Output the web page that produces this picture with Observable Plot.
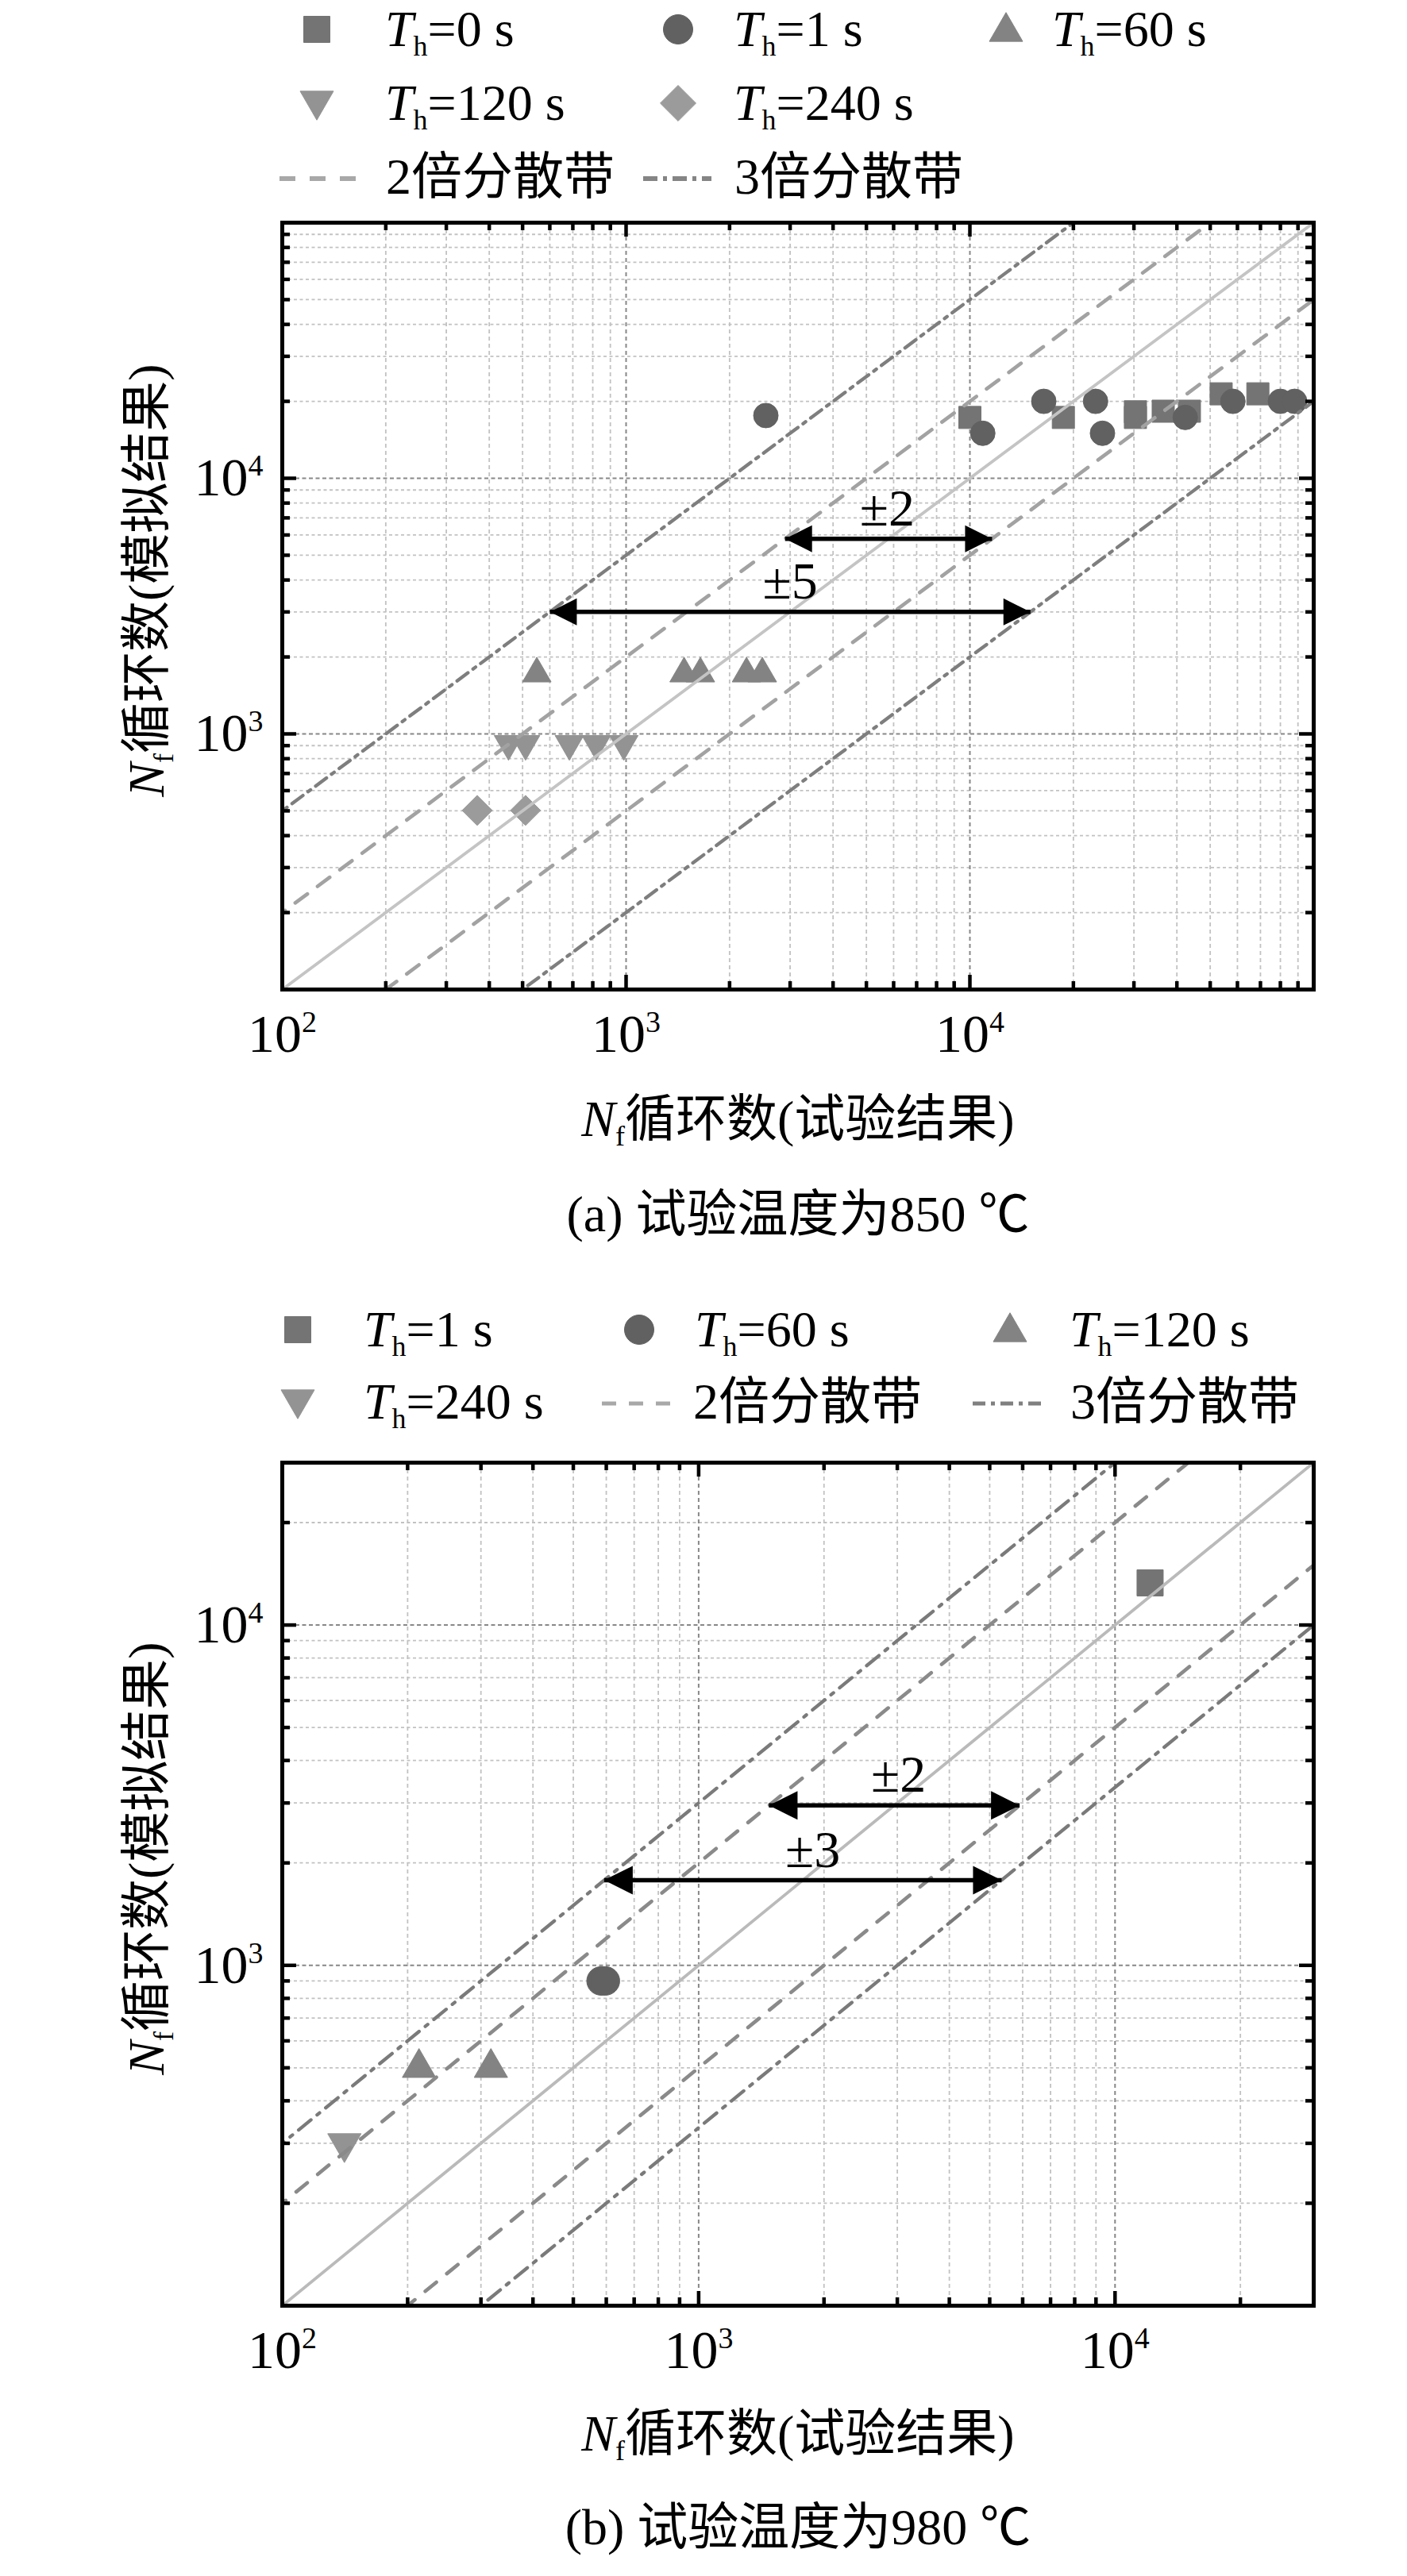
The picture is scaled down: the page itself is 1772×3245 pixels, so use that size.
<!DOCTYPE html>
<html>
<head>
<meta charset="utf-8">
<script src="https://cdn.jsdelivr.net/npm/d3@7"></script>
<script src="https://cdn.jsdelivr.net/npm/@observablehq/plot@0.6"></script>
<style>
html,body{margin:0;padding:0;background:#fff;}
#root{position:relative;width:1772px;height:3245px;background:#fff;overflow:hidden;}
.t{position:absolute;white-space:nowrap;font-family:"Liberation Serif","Noto Sans CJK SC",serif;font-size:64px;line-height:64px;height:64px;color:#000;}
.c{transform:translateX(-50%);}
.sub{font-size:36px;vertical-align:-12px;line-height:0;}
.rot{transform:translate(-50%,-50%) rotate(-90deg);}
svg.mk{position:absolute;overflow:visible;}
</style>
</head>
<body>
<div id="root"></div>
<script>
// ================= DATA: (a) 850 ℃ =================
const a_Th0_x   = [10000, 18700, 30300, 30300, 36500, 43500, 53800, 68800];
const a_Th0_y   = [17300, 17300, 18200, 17300, 18300, 18300, 21400, 21400];
const a_Th1_x   = [2550, 10900, 16400, 23200, 24300, 42300, 58200, 80000, 88000];
const a_Th1_y   = [17600, 15000, 20000, 20000, 15000, 17300, 20000, 20000, 20000];
const a_Th60_x  = [550, 1475, 1645, 2240, 2490];
const a_Th60_y  = [1720, 1720, 1720, 1720, 1720];
const a_Th120_x = [455, 510, 684, 819, 985];
const a_Th120_y = [915, 915, 915, 915, 915];
const a_Th240_x = [369, 510];
const a_Th240_y = [502, 502];
const a_band2 = [2, 0.5];
const a_band3 = [5, 0.2];
const a_arrow_x1 = [2900, 600];
const a_arrow_x2 = [11600, 15000];
const a_arrow_y  = [5800, 3000];
const a_arrow_label   = ["±2", "±5"];
const a_arrow_label_x = [5750, 3000];
const a_xTicks = [100, 1000, 10000];
const a_yTicks = [1000, 10000];
const a_domain = [100, 100000];

// ================= DATA: (b) 980 ℃ =================
const b_Th1_x   = [12140];
const b_Th1_y   = [13300];
const b_Th60_x  = [583, 597];
const b_Th60_y  = [900, 900];
const b_Th120_x = [213, 317];
const b_Th120_y = [500, 500];
const b_Th240_x = [141];
const b_Th240_y = [300];
const b_band2 = [2, 0.5];
const b_band3 = [3, 1 / 3];
const b_arrow_x1 = [1475, 593];
const b_arrow_x2 = [5900, 5340];
const b_arrow_y  = [2950, 1780];
const b_arrow_label   = ["±2", "±3"];
const b_arrow_label_x = [3020, 1880];
const b_xTicks = [100, 1000, 10000];
const b_yTicks = [1000, 10000];
const b_domain = [100, 30000];

// ================= symbols =================
const ns = "http://www.w3.org/2000/svg";
const SQ = {draw(c, s) {const w = Math.sqrt(s); c.moveTo(-w/2, -w/2); c.lineTo(w/2, -w/2); c.lineTo(w/2, w/2); c.lineTo(-w/2, w/2); c.closePath();}};
const CI = {draw(c, s) {const r = Math.sqrt(s / Math.PI); c.moveTo(r, 0); c.arc(0, 0, r, 0, 2 * Math.PI); c.closePath();}};
const TU = {draw(c, s) {const y = Math.sqrt(s / (3 * Math.sqrt(3))), x = Math.sqrt(3) * y; c.moveTo(0, -2*y); c.lineTo(x, y); c.lineTo(-x, y); c.closePath();}};
const TD = {draw(c, s) {const y = Math.sqrt(s / (3 * Math.sqrt(3))), x = Math.sqrt(3) * y; c.moveTo(0, 2*y); c.lineTo(x, -y); c.lineTo(-x, -y); c.closePath();}};
const DM = {draw(c, s) {const r = Math.sqrt(s) * 0.62625; c.moveTo(0, -r); c.lineTo(r, 0); c.lineTo(0, r); c.lineTo(-r, 0); c.closePath();}};
const HL = {draw(c, s) {const L = Math.sqrt(s); c.moveTo(0, 0); c.lineTo(L, -L/2); c.lineTo(L, L/2); c.closePath();}};
const HR = {draw(c, s) {const L = Math.sqrt(s); c.moveTo(0, 0); c.lineTo(-L, -L/2); c.lineTo(-L, L/2); c.closePath();}};
const rOf = s => Math.sqrt(s / Math.PI);

const C_SQ = "#747474", C_CI = "#616161", C_TU = "#838383", C_TD = "#939393", C_DM = "#9b9b9b";

function logTicks([lo, hi]) {
  const minor = [], major = [];
  for (let e = Math.floor(Math.log10(lo)); e <= Math.ceil(Math.log10(hi)); e++) {
    for (let m = 1; m <= 9; m++) {
      const v = m * Math.pow(10, e);
      if (v <= lo * 1.0001 || v >= hi * 0.9999) continue;
      (m === 1 ? major : minor).push(v);
    }
  }
  return {minor, major};
}

function makePanel(o) {
  const H = o.height - o.mt - o.mb, Wd = 1772 - o.ml - o.mr;
  const xt = logTicks(o.domain), yt = logTicks(o.domain);
  const fmt = d => "10^" + Math.round(Math.log10(d));
  const xs = [o.domain[0] / 10, o.domain[1] * 10];
  const lineData = k => xs.map(x => ({x, y: x * k}));
  const tk = {stroke: "#000", strokeWidth: 4.5};
  const marks = [
    Plot.ruleX(xt.minor, {stroke: "#c2c2c2", strokeWidth: 1.8, strokeDasharray: "5,4"}),
    Plot.ruleY(yt.minor, {stroke: "#c2c2c2", strokeWidth: 1.8, strokeDasharray: "4,3.5"}),
    Plot.ruleX(xt.major, {stroke: "#888", strokeWidth: 2, strokeDasharray: "5,4"}),
    Plot.ruleY(yt.major, {stroke: "#888", strokeWidth: 2, strokeDasharray: "5,3.5"}),
    ...o.series.map(s => Plot.dot(s.x, {x: d => d, y: (d, i) => s.y[i], symbol: s.symbol, r: rOf(s.size), fill: s.color, stroke: s.color, strokeWidth: 1, strokeLinejoin: "round"})),
    Plot.line(lineData(1), {x: "x", y: "y", stroke: o.diagColor, strokeWidth: 3.8, clip: true}),
    ...o.band2.map(k => Plot.line(lineData(k), {x: "x", y: "y", stroke: o.c2, strokeWidth: 4.6, strokeDasharray: o.dash2, clip: true})),
    ...o.band3.map(k => Plot.line(lineData(k), {x: "x", y: "y", stroke: o.c3, strokeWidth: 4.3, strokeDasharray: o.dash3, clip: true})),
    Plot.link(o.arrowY, {x1: (d, i) => o.arrowX1[i], x2: (d, i) => o.arrowX2[i], y1: d => d, y2: d => d, stroke: "#000", strokeWidth: 5.5}),
    Plot.dot(o.arrowY, {x: (d, i) => o.arrowX1[i], y: d => d, symbol: HL, r: rOf(o.headSize), fill: "#000"}),
    Plot.dot(o.arrowY, {x: (d, i) => o.arrowX2[i], y: d => d, symbol: HR, r: rOf(o.headSize), fill: "#000"}),
    Plot.text(o.arrowLabel, {x: (d, i) => o.arrowLabelX[i], y: (d, i) => o.arrowY[i], text: d => d, dy: -38, fontSize: 66, lineAnchor: "middle", fill: "#000"}),
    Plot.tickX(xt.minor, {insetTop: H - 10, ...tk}),
    Plot.tickX(xt.minor, {insetBottom: H - 10, ...tk}),
    Plot.tickX(xt.major, {insetTop: H - 18, ...tk}),
    Plot.tickX(xt.major, {insetBottom: H - 18, ...tk}),
    Plot.tickY(yt.minor, {insetRight: Wd - 10, ...tk}),
    Plot.tickY(yt.minor, {insetLeft: Wd - 10, ...tk}),
    Plot.tickY(yt.major, {insetRight: Wd - 18, ...tk}),
    Plot.tickY(yt.major, {insetLeft: Wd - 18, ...tk}),
    Plot.frame({stroke: "#000", strokeWidth: 5}),
    Plot.axisX(o.xTicks, {anchor: "bottom", tickSize: 0, tickPadding: 30, tickFormat: fmt, label: null, fontSize: 68}),
    Plot.axisY(o.yTicks, {anchor: "left", tickSize: 0, tickPadding: 24, tickFormat: fmt, label: null, fontSize: 68})
  ];
  const svg = Plot.plot({
    width: 1772, height: o.height,
    marginTop: o.mt, marginBottom: o.mb, marginLeft: o.ml, marginRight: o.mr,
    x: {type: "log", domain: o.domain, label: null},
    y: {type: "log", domain: o.domain, label: null},
    style: {fontFamily: '"Liberation Serif", "Times New Roman", serif', fontSize: "68px", background: "transparent", overflow: "visible", color: "#000"},
    marks
  });
  svg.querySelectorAll('g[aria-label="x-axis tick label"] text, g[aria-label="y-axis tick label"] text').forEach(t => {
    const m = (t.textContent || "").match(/^10\^(\d+)$/);
    if (!m) return;
    t.textContent = "";
    const a = document.createElementNS(ns, "tspan"); a.textContent = "10"; t.appendChild(a);
    const b = document.createElementNS(ns, "tspan"); b.textContent = m[1];
    b.setAttribute("font-size", "38"); b.setAttribute("dy", "-25"); t.appendChild(b);
  });
  svg.style.position = "absolute";
  svg.style.left = "0px";
  svg.style.top = o.top + "px";
  return svg;
}

const root = document.getElementById("root");

root.appendChild(makePanel({
  top: 262, height: 1098, mt: 18, mb: 114, ml: 355, mr: 118,
  domain: a_domain, xTicks: a_xTicks, yTicks: a_yTicks,
  series: [
    {x: a_Th0_x, y: a_Th0_y, symbol: SQ, size: 784, color: C_SQ},
    {x: a_Th1_x, y: a_Th1_y, symbol: CI, size: 755, color: C_CI},
    {x: a_Th60_x, y: a_Th60_y, symbol: TU, size: 561, color: C_TU},
    {x: a_Th120_x, y: a_Th120_y, symbol: TD, size: 561, color: C_TD},
    {x: a_Th240_x, y: a_Th240_y, symbol: DM, size: 920, color: C_DM}
  ],
  band2: a_band2, band3: a_band3,
  diagColor: "#c4c4c4", c2: "#a2a2a2", c3: "#7e7e7e", dash2: "19,16", dash3: "17,8,4,8",
  arrowX1: a_arrow_x1, arrowX2: a_arrow_x2, arrowY: a_arrow_y, arrowLabel: a_arrow_label, arrowLabelX: a_arrow_label_x,
  headSize: 1156
}));

root.appendChild(makePanel({
  top: 1790, height: 1210, mt: 52, mb: 96, ml: 355, mr: 118,
  domain: b_domain, xTicks: b_xTicks, yTicks: b_yTicks,
  series: [
    {x: b_Th1_x, y: b_Th1_y, symbol: SQ, size: 1089, color: C_SQ},
    {x: b_Th60_x, y: b_Th60_y, symbol: CI, size: 1018, color: C_CI},
    {x: b_Th120_x, y: b_Th120_y, symbol: TU, size: 764, color: C_TU},
    {x: b_Th240_x, y: b_Th240_y, symbol: TD, size: 764, color: C_TD}
  ],
  band2: b_band2, band3: b_band3,
  diagColor: "#bababa", c2: "#8a8a8a", c3: "#7a7a7a", dash2: "18,17", dash3: "20,10,4,10",
  arrowX1: b_arrow_x1, arrowX2: b_arrow_x2, arrowY: b_arrow_y, arrowLabel: b_arrow_label, arrowLabelX: b_arrow_label_x,
  headSize: 1296
}));

// ================= legends & titles (HTML) =================
function addMarker(sym, size, color, cx, cy) {
  const p = d3.path(); sym.draw(p, size);
  const s = document.createElementNS(ns, "svg");
  s.setAttribute("class", "mk");
  s.setAttribute("width", 80); s.setAttribute("height", 80);
  s.setAttribute("viewBox", "-40 -40 80 80");
  s.style.left = (cx - 40) + "px"; s.style.top = (cy - 40) + "px";
  const path = document.createElementNS(ns, "path");
  path.setAttribute("d", p.toString()); path.setAttribute("fill", color);
  path.setAttribute("stroke", color); path.setAttribute("stroke-width", 1); path.setAttribute("stroke-linejoin", "round");
  s.appendChild(path); root.appendChild(s);
}
function addLine(x1, x2, cy, color, dash, w) {
  const s = document.createElementNS(ns, "svg");
  s.setAttribute("class", "mk");
  s.setAttribute("width", x2 - x1); s.setAttribute("height", 20);
  s.style.left = x1 + "px"; s.style.top = (cy - 10) + "px";
  const l = document.createElementNS(ns, "line");
  l.setAttribute("x1", 0); l.setAttribute("x2", x2 - x1); l.setAttribute("y1", 10); l.setAttribute("y2", 10);
  l.setAttribute("stroke", color); l.setAttribute("stroke-width", w); l.setAttribute("stroke-dasharray", dash);
  s.appendChild(l); root.appendChild(s);
}
function addText(html, x, cy, cls) {
  const d = document.createElement("div");
  d.className = "t" + (cls ? " " + cls : "");
  d.innerHTML = html;
  d.style.left = x + "px"; d.style.top = (cy - 32) + "px";
  root.appendChild(d);
}
const Th = v => `<i>T</i><span class="sub">h</span>=${v} s`;

// legend (a)
addMarker(SQ, 1089, C_SQ, 399, 37);  addText(Th(0), 485, 37);
addMarker(CI, 1075, C_CI, 854, 37);  addText(Th(1), 924, 37);
addMarker(TU, 764, C_TU, 1267, 40);  addText(Th(60), 1325, 37);
addMarker(TD, 764, C_TD, 399, 127);  addText(Th(120), 485, 130);
addMarker(DM, 1291, C_DM, 854, 130); addText(Th(240), 924, 130);
addLine(352, 448, 225, "#a8a8a8", "20,18", 6);
addText("2倍分散带", 486, 223);
addLine(810, 896, 225, "#858585", "18,7,5,7", 6);
addText("3倍分散带", 925, 223);

// legend (b)
addMarker(SQ, 1089, C_SQ, 375, 1675);  addText(Th(1), 458, 1675);
addMarker(CI, 1075, C_CI, 805, 1675);  addText(Th(60), 875, 1675);
addMarker(TU, 764, C_TU, 1272, 1678);  addText(Th(120), 1347, 1675);
addMarker(TD, 764, C_TD, 375, 1763);   addText(Th(240), 458, 1766);
addLine(758, 852, 1768, "#a8a8a8", "18,16", 5);
addText("2倍分散带", 873, 1766);
addLine(1225, 1312, 1768, "#808080", "16,7,5,7", 5);
addText("3倍分散带", 1348, 1766);

// axis titles & captions
addText(`<i>N</i><span class="sub">f</span>循环数(试验结果)`, 1005, 1410, "c");
addText(`<i>N</i><span class="sub">f</span>循环数(模拟结果)`, 185, 763, "rot");
addText(`(a) 试验温度为850 ℃`, 1005, 1530, "c");
addText(`<i>N</i><span class="sub">f</span>循环数(试验结果)`, 1005, 3066, "c");
addText(`<i>N</i><span class="sub">f</span>循环数(模拟结果)`, 185, 2373, "rot");
addText(`(b) 试验温度为980 ℃`, 1005, 3184, "c");
</script>
</body>
</html>
